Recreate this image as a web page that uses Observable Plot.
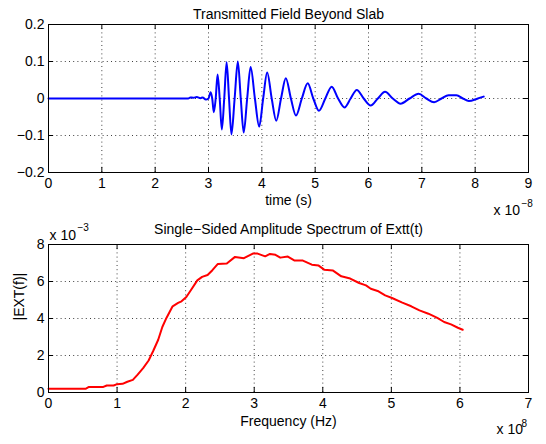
<!DOCTYPE html>
<html><head><meta charset="utf-8">
<script src="https://cdn.jsdelivr.net/npm/d3@7"></script>
<script src="https://cdn.jsdelivr.net/npm/@observablehq/plot@0.6"></script>
<style>
html,body{margin:0;padding:0;background:#fff;}
#chart{position:relative;width:546px;height:444px;overflow:hidden;}
#chart svg{display:block;}
</style></head><body><div id="chart"></div>
<script>
// ---- Top panel: transmitted field (time in units of 1e-8 s) ----
const timeTicks = [0, 1, 2, 3, 4, 5, 6, 7, 8, 9];
const fieldTicks = [-0.2, -0.1, 0, 0.1, 0.2];
const time = [0, 2.62, 2.66, 2.72, 2.78, 2.85, 2.89, 2.95, 3.00,
  3.04, 3.07, 3.10, 3.135, 3.17, 3.21, 3.25, 3.295, 3.34, 3.385, 3.43, 3.49,
  3.55, 3.605, 3.66, 3.725, 3.79, 3.87, 3.95, 4.025, 4.10, 4.185, 4.27, 4.36,
  4.45, 4.545, 4.64, 4.75, 4.86, 4.965, 5.07, 5.19, 5.31, 5.43, 5.55, 5.665,
  5.78, 5.91, 6.04, 6.175, 6.31, 6.455, 6.60, 6.77, 6.94, 7.085, 7.23, 7.37,
  7.50, 7.65, 7.77, 7.88, 8.05, 8.16];
const field = [0, 0, 0.003, 0.002, 0.004, 0.001, 0.003, -0.003, 0.0,
  0.017, 0, -0.037, 0, 0.065, 0, -0.084, 0, 0.098, 0, -0.097, 0,
  0.100, 0, -0.092, 0, 0.085, 0, -0.076, 0, 0.070, 0, -0.060, 0,
  0.055, 0, -0.046, 0, 0.041, 0, -0.033, 0, 0.032, 0, -0.024, 0,
  0.023, 0, -0.019, 0, 0.018, 0, -0.014, 0, 0.013, 0, -0.010, 0,
  0.009, 0.009, 0, -0.007, 0, 0.005];

// ---- Bottom panel: amplitude spectrum (freq in 1e8 Hz, amplitude in 1e-3) ----
const freqTicks = [0, 1, 2, 3, 4, 5, 6, 7];
const ampTicks = [0, 2, 4, 6, 8];
const freq = [0, 0.54, 0.59, 0.80, 0.85, 0.95, 1.00, 1.08, 1.15, 1.23,
  1.30, 1.38, 1.46, 1.53, 1.60, 1.66, 1.72, 1.81, 1.89, 1.94,
  2.01, 2.09, 2.17, 2.24, 2.32, 2.39, 2.47, 2.60, 2.72, 2.85,
  2.98, 3.05, 3.16, 3.23, 3.31, 3.38, 3.49, 3.59, 3.71, 3.84,
  3.94, 4.02, 4.15, 4.27, 4.40, 4.53, 4.63, 4.70, 4.80, 4.91,
  5.01, 5.16, 5.29, 5.41, 5.54, 5.67, 5.77, 5.87, 5.97, 6.04];
const amp = [0.20, 0.20, 0.30, 0.30, 0.38, 0.38, 0.45, 0.47, 0.58, 0.68,
  0.97, 1.32, 1.73, 2.27, 2.85, 3.54, 4.03, 4.66, 4.84, 4.93,
  5.16, 5.61, 6.06, 6.25, 6.35, 6.61, 6.95, 6.97, 7.33, 7.26,
  7.51, 7.51, 7.36, 7.49, 7.44, 7.29, 7.35, 7.13, 7.13, 6.91,
  6.86, 6.64, 6.59, 6.28, 6.16, 5.92, 5.79, 5.61, 5.49, 5.25,
  5.11, 4.86, 4.66, 4.44, 4.26, 4.03, 3.81, 3.68, 3.50, 3.39];

const FONT = "'Liberation Sans', Arial, Helvetica, sans-serif";
const FS = 14;
const W = 546, ML = 48, MR = 18;
const minus = s => String(s).replace("-", "\u2212");

function matlabAxes({height, marginTop, marginBottom, xDomain, yDomain, xTicks, yTicks, yFormat, line, texts}) {
  const fw = W - ML - MR, fh = height - marginTop - marginBottom, tl = 5;
  const dots = {stroke: "black", strokeOpacity: 0.75, strokeDasharray: "1,3.2", strokeWidth: 1};
  return Plot.plot({
    width: W, height, marginLeft: ML, marginRight: MR, marginTop, marginBottom,
    style: {fontFamily: FONT, fontSize: FS + "px", color: "black", background: "white", overflow: "visible"},
    x: {domain: xDomain},
    y: {domain: yDomain},
    marks: [
      Plot.gridX(xTicks, dots),
      Plot.gridY(yTicks, dots),
      Plot.tickX(xTicks, {x: d => d, insetTop: fh - tl, stroke: "black"}),
      Plot.tickX(xTicks, {x: d => d, insetBottom: fh - tl, stroke: "black"}),
      Plot.tickY(yTicks, {y: d => d, insetRight: fw - tl, stroke: "black"}),
      Plot.tickY(yTicks, {y: d => d, insetLeft: fw - tl, stroke: "black"}),
      line,
      Plot.frame({stroke: "black", strokeWidth: 1}),
      Plot.axisX(xTicks, {tickSize: 0, tickPadding: 6, label: null, tickFormat: d => String(d), fontSize: FS}),
      Plot.axisY(yTicks, {tickSize: 0, tickPadding: 4, label: null, tickFormat: yFormat, fontSize: FS}),
      ...texts
    ]
  });
}

const txt = (s, o) => Plot.text([s], {text: d => d, fill: "black", fontSize: FS, ...o});

const topPanel = matlabAxes({
  height: 220, marginTop: 24, marginBottom: 48,
  xDomain: [0, 9], yDomain: [-0.2, 0.2],
  xTicks: timeTicks, yTicks: fieldTicks,
  yFormat: d => d === 0 ? "0" : minus(d.toFixed(1)),
  line: Plot.line(time.map((t, i) => ({t, v: field[i]})), {x: "t", y: "v", stroke: "#0000ff", strokeWidth: 2, curve: "monotone-x"}),
  texts: [
    txt("Transmitted Field Beyond Slab", {frameAnchor: "top", dy: -15}),
    txt("time (s)", {frameAnchor: "bottom", dy: 32}),
    txt("x 10", {frameAnchor: "bottom-right", textAnchor: "start", dx: -35, dy: 42}),
    txt("\u22128", {frameAnchor: "bottom-right", textAnchor: "start", dx: -7, dy: 34, fontSize: 10})
  ]
});

const bottomPanel = matlabAxes({
  height: 224, marginTop: 24, marginBottom: 52,
  xDomain: [0, 7], yDomain: [0, 8],
  xTicks: freqTicks, yTicks: ampTicks,
  yFormat: d => String(d),
  line: Plot.line(freq.map((f, i) => ({f, a: amp[i]})), {x: "f", y: "a", stroke: "#ff0000", strokeWidth: 2}),
  texts: [
    txt("Single\u2212Sided Amplitude Spectrum of Extt(t)", {frameAnchor: "top", dy: -20}),
    txt("Frequency (Hz)", {frameAnchor: "bottom", dy: 33}),
    txt("|EXT(f)|", {frameAnchor: "left", rotate: -90, dx: -29, dy: 2}),
    txt("x 10", {frameAnchor: "top-left", textAnchor: "start", dx: 1, dy: -14}),
    txt("\u22123", {frameAnchor: "top-left", textAnchor: "start", dx: 29, dy: -21, fontSize: 10}),
    txt("x 10", {frameAnchor: "bottom-right", textAnchor: "start", dx: -32, dy: 41}),
    txt("8", {frameAnchor: "bottom-right", textAnchor: "start", dx: -7, dy: 34, fontSize: 10})
  ]
});

const chart = document.getElementById("chart");
chart.appendChild(topPanel);
chart.appendChild(bottomPanel);
</script>
</body></html>
